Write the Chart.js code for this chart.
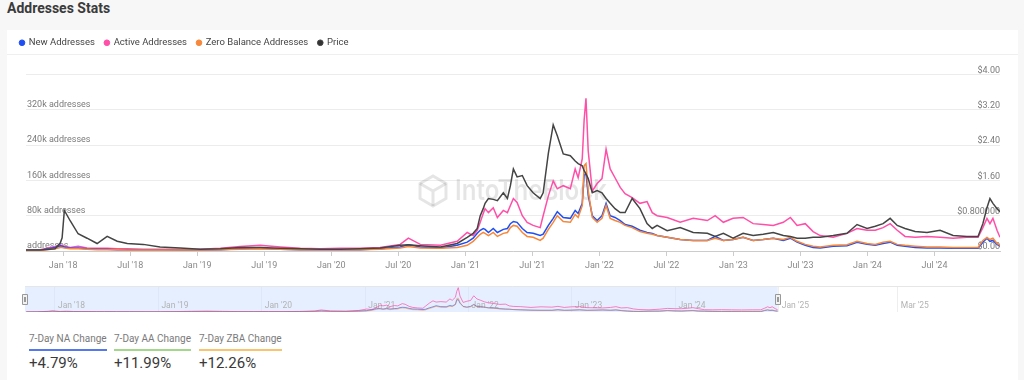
<!DOCTYPE html>
<html><head><meta charset="utf-8">
<script src="https://cdn.jsdelivr.net/npm/chart.js@4.4.1/dist/chart.umd.min.js"></script>
<style>
html,body{margin:0;padding:0;background:#f7f7f8;width:1024px;height:380px;overflow:hidden;font-family:Roboto,"Noto Sans",sans-serif;}
#title{position:absolute;left:7px;top:-2px;font-size:14px;font-weight:700;color:#3b3b3b;line-height:20px;}
#card{position:absolute;left:7px;top:30px;width:1011px;height:350px;background:#fff;}
#sep{position:absolute;left:7px;top:54px;width:1011px;height:1px;background:#efefef;}
#main{position:absolute;left:0;top:28px;}
#nav{position:absolute;left:0;top:284px;}
.stat{position:absolute;top:333px;width:max-content;}
.stat .lbl{font-size:10px;line-height:12px;color:#7a7a7a;padding-bottom:4px;border-bottom:2px solid;display:block;}
.stat .val{font-size:15px;line-height:18px;color:#3a3a3a;margin-top:3px;}
</style></head>
<body>
<div id="title">Addresses Stats</div>
<div id="card"></div>
<canvas id="main" width="1024" height="258"></canvas>
<div id="sep"></div>
<canvas id="nav" width="1024" height="30"></canvas>
<div class="stat" style="left:29px"><div class="lbl" style="border-color:#5578ef">7-Day NA Change</div><div class="val">+4.79%</div></div>
<div class="stat" style="left:114px"><div class="lbl" style="border-color:#a3d88c">7-Day AA Change</div><div class="val">+11.99%</div></div>
<div class="stat" style="left:199px"><div class="lbl" style="border-color:#f8c46f">7-Day ZBA Change</div><div class="val">+12.26%</div></div>
<script>
const dates = ["2017-09-21","2017-10-29","2017-12-09","2017-12-23","2017-12-28","2018-01-04","2018-01-20","2018-02-11","2018-03-05","2018-04-02","2018-04-29","2018-05-26","2018-06-23","2018-08-06","2018-09-21","2018-11-15","2019-01-09","2019-03-03","2019-04-26","2019-06-20","2019-08-14","2019-10-08","2019-12-01","2020-01-25","2020-03-18","2020-05-12","2020-07-06","2020-07-28","2020-08-30","2020-10-24","2020-12-09","2021-01-06","2021-01-22","2021-02-03","2021-02-11","2021-02-19","2021-02-24","2021-03-03","2021-03-16","2021-03-27","2021-04-13","2021-04-24","2021-05-02","2021-05-10","2021-05-20","2021-06-04","2021-06-17","2021-07-03","2021-07-22","2021-07-30","2021-08-14","2021-08-27","2021-09-08","2021-09-24","2021-10-13","2021-10-26","2021-11-04","2021-11-15","2021-11-20","2021-11-25","2021-12-01","2021-12-12","2021-12-25","2022-01-08","2022-01-19","2022-01-30","2022-02-13","2022-02-27","2022-03-10","2022-03-29","2022-04-20","2022-05-09","2022-05-23","2022-06-06","2022-07-03","2022-08-08","2022-09-13","2022-10-21","2022-11-12","2022-12-04","2022-12-30","2023-01-27","2023-02-24","2023-03-21","2023-04-18","2023-05-15","2023-06-04","2023-06-22","2023-07-14","2023-08-05","2023-08-24","2023-09-29","2023-11-06","2023-12-03","2023-12-30","2024-01-22","2024-02-13","2024-03-02","2024-03-21","2024-04-12","2024-05-09","2024-06-11","2024-07-16","2024-08-21","2024-09-28","2024-10-28","2024-11-11","2024-11-22","2024-11-30","2024-12-08","2024-12-19","2024-12-27"];

// thousands of addresses
const newAddressesK = [1,2,8,12,11,9,6,7,5,4,4,3,3,3,3,2,2,3,5,6,4,3,3,3,3,5,9,14,9,7,13,20,29,40,47,51,49,42,51,42,49,51,62,67,65,51,42,40,35,38,58,74,89,76,74,92,85,108,171,177,126,80,69,80,108,80,76,69,60,56,47,42,40,35,31,26,24,24,33,24,26,31,24,26,29,24,29,20,13,8,7,11,12,20,15,13,17,20,13,11,8,7,7,6,6,6,20,29,22,24,15,11];
const activeAddressesK = [2,3,10,14,12,11,8,11,7,6,6,5,5,4,4,4,4,6,10,13,9,6,5,6,6,8,15,29,15,13,22,42,35,47,65,85,96,87,98,76,92,87,103,119,110,80,65,58,53,80,125,159,141,148,141,186,166,209,296,346,227,136,153,164,231,186,166,144,130,121,108,112,87,80,76,65,74,69,80,65,74,76,62,60,58,65,76,58,62,44,35,31,40,51,47,47,53,62,47,33,31,33,31,29,31,31,53,74,62,74,47,31];
const zeroBalanceK = [1,1,5,8,8,7,5,5,4,3,3,3,2,2,2,2,2,3,4,5,4,3,3,3,3,4,7,10,7,6,8,13,22,31,38,42,40,35,42,33,40,42,53,58,56,42,33,31,24,29,49,65,80,67,65,83,76,103,193,198,137,76,65,74,103,74,69,65,58,53,44,40,38,35,31,26,24,24,29,24,26,31,24,26,29,26,31,22,15,11,9,13,14,22,17,15,20,22,15,13,11,9,9,8,8,8,24,31,26,29,17,13];
const priceUSD = [0.02,0.02,0.05,0.18,0.30,0.92,0.68,0.39,0.29,0.17,0.33,0.22,0.17,0.15,0.09,0.07,0.04,0.05,0.08,0.08,0.06,0.05,0.04,0.04,0.05,0.07,0.13,0.14,0.12,0.09,0.17,0.31,0.40,0.51,0.80,0.96,1.08,1.19,1.17,1.14,1.32,1.19,1.48,1.86,1.68,1.71,1.48,1.32,1.19,1.32,2.22,2.86,2.61,2.20,2.16,2.04,1.98,1.93,1.82,1.75,1.64,1.32,1.37,1.32,1.19,1.08,0.96,0.87,0.87,1.19,0.96,0.62,0.51,0.58,0.46,0.53,0.42,0.40,0.33,0.40,0.29,0.40,0.35,0.38,0.42,0.35,0.33,0.29,0.29,0.31,0.31,0.35,0.40,0.60,0.51,0.56,0.62,0.74,0.58,0.51,0.44,0.42,0.47,0.35,0.33,0.33,0.62,0.98,1.19,1.08,0.96,0.89];

const xTickLabels = ["Jan '18","Jul '18","Jan '19","Jul '19","Jan '20","Jul '20","Jan '21","Jul '21","Jan '22","Jul '22","Jan '23","Jul '23","Jan '24","Jul '24"];
const xTickMonths = [0,6,12,18,24,30,36,42,48,54,60,66,72,78];
const leftTickLabels = ["addresses","80k addresses","160k addresses","240k addresses","320k addresses",""];
const rightTickLabels = ["$0.00","$0.800000","$1.60","$2.40","$3.20","$4.00"];
const navTickLabels = ["Jan '18","Jan '19","Jan '20","Jan '21","Jan '22","Jan '23","Jan '24","Jan '25","Mar '25"];
const navTickMonths = [0,12,24,36,48,60,72,84,97.8];

function monthIndex(d){const [y,m,dd]=d.split('-').map(Number);return (y-2018)*12+(m-1)+(dd-1)/30;}
const xs = dates.map(monthIndex);
const pts = arr => arr.map((v,i)=>({x:xs[i],y:v}));

const FONT = 'Roboto';
const COLORS = {n:'#1f4ff2', a:'#ff4fa8', z:'#f7873a', p:'#444444'};

const legendGap = {
  id:'legendGap',
  beforeLayout(chart){
    const lg = chart.legend;
    if (lg && !lg.__gap){
      const f = lg.fit;
      lg.fit = function(){ f.call(this); this.height += 17; };
      lg.__gap = true;
    }
  }
};

const watermark = {
  id:'watermark',
  beforeDatasetsDraw(chart){
    const c = chart.ctx; c.save();
    c.fillStyle='rgba(0,0,0,0.10)';
    c.font = '600 28px Inter'; c.textBaseline='middle';
    const w = c.measureText('IntoTheBlock').width;
    c.translate(455, 164); c.scale(152/w,1);
    c.fillText('IntoTheBlock',0,0); c.restore();
    c.save(); c.strokeStyle='rgba(0,0,0,0.10)'; c.lineWidth=3;
    const cx=433, cy=163, r=15;
    c.beginPath();
    for(let k=0;k<6;k++){const ang=Math.PI/6+k*Math.PI/3;const px=cx+r*Math.cos(ang), py=cy+r*Math.sin(ang); k?c.lineTo(px,py):c.moveTo(px,py);}
    c.closePath(); c.stroke();
    c.beginPath(); c.moveTo(cx-r*0.87,cy-r*0.5); c.lineTo(cx,cy); c.lineTo(cx+r*0.87,cy-r*0.5); c.moveTo(cx,cy); c.lineTo(cx,cy+r); c.stroke();
    c.restore();
  }
};

new Chart(document.getElementById('main'), {
  type:'line',
  data:{datasets:[
    {label:'New Addresses', data:pts(newAddressesK), yAxisID:'y', borderColor:COLORS.n, backgroundColor:COLORS.n, order:2},
    {label:'Active Addresses', data:pts(activeAddressesK), yAxisID:'y', borderColor:COLORS.a, backgroundColor:COLORS.a, order:3},
    {label:'Zero Balance Addresses', data:pts(zeroBalanceK), yAxisID:'y', borderColor:COLORS.z, backgroundColor:COLORS.z, order:1},
    {label:'Price', data:pts(priceUSD), yAxisID:'yPrice', borderColor:COLORS.p, backgroundColor:'#333', order:0}
  ]},
  options:{
    responsive:false, animation:false,
    elements:{point:{radius:0}, line:{borderWidth:1.5, tension:0}},
    layout:{padding:{left:10,right:0,top:0,bottom:0}},
    plugins:{
      legend:{position:'top', align:'start',
        labels:{usePointStyle:true, pointStyle:'circle', boxWidth:4, boxHeight:4, padding:10, color:'#444', font:{family:FONT,size:9.5},
          sort:(a,b)=>a.datasetIndex-b.datasetIndex}},
      tooltip:{enabled:false}
    },
    scales:{
      x:{type:'linear', min:xs[0], max:xs[xs.length-1],
        afterBuildTicks:s=>{s.ticks = xTickMonths.map(v=>({value:v}));},
        ticks:{autoSkip:false, maxRotation:0, color:'#8a8a8a', font:{family:FONT,size:9}, padding:4, callback:(v,i)=>xTickLabels[i]},
        grid:{drawOnChartArea:false, color:'#cccccc', tickLength:5},
        border:{color:'#cccccc'},
        afterFit:s=>{s.height=35;}},
      y:{position:'left', min:0, max:400,
        afterBuildTicks:s=>{s.ticks=[0,80,160,240,320,400].map(v=>({value:v}));},
        ticks:{mirror:true, padding:1, labelOffset:-5, color:'#7a7a7a', font:{family:FONT,size:9}, callback:(v,i)=>leftTickLabels[i]},
        grid:{color:'#ececec', drawTicks:false}, border:{display:false},
        afterFit:s=>{s.width=16;}},
      yPrice:{position:'right', min:0, max:4,
        afterBuildTicks:s=>{s.ticks=[0,0.8,1.6,2.4,3.2,4].map(v=>({value:v}));},
        ticks:{mirror:true, padding:0, labelOffset:-4, color:'#7a7a7a', font:{family:FONT,size:9}, callback:(v,i)=>rightTickLabels[i]},
        grid:{display:false}, border:{display:false},
        afterFit:s=>{s.width=24;}}
    }
  },
  plugins:[legendGap, watermark]
});

const navLast = xs[xs.length-1];
const navPlugin = {
  id:'navDecor',
  beforeDatasetsDraw(chart){
    const {ctx, chartArea:a, scales:{x}} = chart;
    const xe = x.getPixelForValue(navLast);
    ctx.save();
    ctx.fillStyle='rgba(204,224,255,0.5)';
    ctx.fillRect(a.left, a.top, xe-a.left, a.bottom-a.top);
    ctx.strokeStyle='#e6e6e6'; ctx.lineWidth=1;
    ctx.beginPath(); ctx.moveTo(a.left, a.top+0.5); ctx.lineTo(a.right, a.top+0.5); ctx.stroke();
    ctx.fillStyle='#b3b3b3'; ctx.font='8.5px '+FONT; ctx.textBaseline='middle'; ctx.textAlign='left';
    navTickMonths.forEach((v,i)=>{ctx.fillText(navTickLabels[i], x.getPixelForValue(v)+3, a.bottom-6);});
    ctx.restore();
  },
  afterDatasetsDraw(chart){
    const {ctx, chartArea:a, scales:{x}} = chart;
    const xe = x.getPixelForValue(navLast);
    ctx.save();
    [a.left, xe].forEach(hx=>{
      ctx.fillStyle='#f2f2f2'; ctx.strokeStyle='#999'; ctx.lineWidth=1;
      ctx.beginPath(); ctx.rect(Math.round(hx)-2.5, a.top+8.5, 5, 10); ctx.fill(); ctx.stroke();
      ctx.beginPath(); ctx.moveTo(Math.round(hx)-0.5,a.top+11); ctx.lineTo(Math.round(hx)-0.5,a.top+16); ctx.moveTo(Math.round(hx)+0.5,a.top+11); ctx.lineTo(Math.round(hx)+0.5,a.top+16); ctx.stroke();
    });
    ctx.restore();
  }
};

new Chart(document.getElementById('nav'), {
  type:'line',
  data:{datasets:[
    {data:pts(activeAddressesK), borderColor:'rgba(255,79,168,0.7)', order:2},
    {data:pts(newAddressesK), borderColor:'rgba(31,79,242,0.6)', order:1},
    {data:pts(zeroBalanceK), borderColor:'rgba(247,135,58,0.5)', order:0}
  ]},
  options:{
    responsive:false, animation:false,
    elements:{point:{radius:0}, line:{borderWidth:1, tension:0}},
    layout:{padding:{left:25,right:24,top:2,bottom:2}},
    plugins:{legend:{display:false}, tooltip:{enabled:false}},
    scales:{
      x:{type:'linear', min:-3.48, max:109.67,
        afterBuildTicks:s=>{s.ticks=navTickMonths.map(v=>({value:v}));},
        ticks:{display:false}, grid:{color:'#eeeeee', drawTicks:false}, border:{display:false},
        afterFit:s=>{s.height=0;}},
      y:{display:false, min:0, max:370}
    }
  },
  plugins:[navPlugin]
});
</script>
</body></html>
